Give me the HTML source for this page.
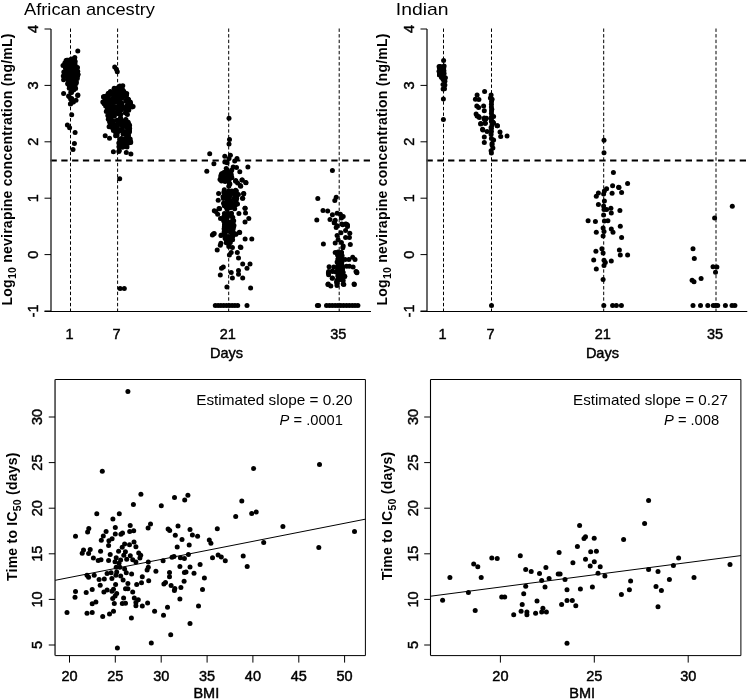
<!DOCTYPE html>
<html><head><meta charset="utf-8"><style>
html,body{margin:0;padding:0;background:#fff;}
svg{display:block;font-family:"Liberation Sans", sans-serif;will-change:transform;}
text{fill:#000;} .lb{stroke:#000;stroke-width:0.45px;}
</style></head><body>
<svg width="749" height="700" viewBox="0 0 749 700"><rect width="749" height="700" fill="#fff"/><line x1="70.5" y1="28.5" x2="70.5" y2="311" stroke="#000" stroke-width="1" stroke-dasharray="3.4 2.2"/><line x1="117.6" y1="28.5" x2="117.6" y2="311" stroke="#000" stroke-width="1" stroke-dasharray="3.4 2.2"/><line x1="228.7" y1="28.5" x2="228.7" y2="311" stroke="#000" stroke-width="1" stroke-dasharray="3.4 2.2"/><line x1="339.2" y1="28.5" x2="339.2" y2="311" stroke="#000" stroke-width="1" stroke-dasharray="3.4 2.2"/><line x1="50.5" y1="160.5" x2="370" y2="160.5" stroke="#000" stroke-width="2" stroke-dasharray="6.3 4.5"/><line x1="51" y1="29.0" x2="51" y2="311.5" stroke="#444" stroke-width="1.6"/><line x1="44.5" y1="311.0" x2="51" y2="311.0" stroke="#000" stroke-width="1"/><text transform="translate(38.2,311.0) rotate(-90)" text-anchor="middle" font-size="14.5" class="lb">-1</text><line x1="44.5" y1="254.6" x2="51" y2="254.6" stroke="#000" stroke-width="1"/><text transform="translate(38.2,254.6) rotate(-90)" text-anchor="middle" font-size="14.5" class="lb">0</text><line x1="44.5" y1="198.2" x2="51" y2="198.2" stroke="#000" stroke-width="1"/><text transform="translate(38.2,198.2) rotate(-90)" text-anchor="middle" font-size="14.5" class="lb">1</text><line x1="44.5" y1="141.8" x2="51" y2="141.8" stroke="#000" stroke-width="1"/><text transform="translate(38.2,141.8) rotate(-90)" text-anchor="middle" font-size="14.5" class="lb">2</text><line x1="44.5" y1="85.4" x2="51" y2="85.4" stroke="#000" stroke-width="1"/><text transform="translate(38.2,85.4) rotate(-90)" text-anchor="middle" font-size="14.5" class="lb">3</text><line x1="44.5" y1="29.0" x2="51" y2="29.0" stroke="#000" stroke-width="1"/><text transform="translate(38.2,29.0) rotate(-90)" text-anchor="middle" font-size="14.5" class="lb">4</text><line x1="44.5" y1="311.5" x2="371" y2="311.5" stroke="#000" stroke-width="1"/><text x="69.5" y="339" text-anchor="middle" font-size="14.5" class="lb">1</text><text x="116.6" y="339" text-anchor="middle" font-size="14.5" class="lb">7</text><text x="227.7" y="339" text-anchor="middle" font-size="14.5" class="lb">21</text><text x="338.2" y="339" text-anchor="middle" font-size="14.5" class="lb">35</text><text x="226.5" y="357.7" text-anchor="middle" font-size="14.5" class="lb">Days</text><text transform="translate(12,305.5) rotate(-90)" font-size="14" font-weight="bold" textLength="272" lengthAdjust="spacing">Log<tspan font-size="10.5" dy="4.2">10</tspan><tspan dy="-4.2"> nevirapine concentration (ng/mL)</tspan></text><line x1="443.5" y1="28.5" x2="443.5" y2="311" stroke="#000" stroke-width="1" stroke-dasharray="3.4 2.2"/><line x1="491.5" y1="28.5" x2="491.5" y2="311" stroke="#000" stroke-width="1" stroke-dasharray="3.4 2.2"/><line x1="603.7" y1="28.5" x2="603.7" y2="311" stroke="#000" stroke-width="1" stroke-dasharray="3.4 2.2"/><line x1="716" y1="28.5" x2="716" y2="311" stroke="#000" stroke-width="1" stroke-dasharray="3.4 2.2"/><line x1="426.5" y1="160.5" x2="746.3" y2="160.5" stroke="#000" stroke-width="2" stroke-dasharray="6.3 4.5"/><line x1="427" y1="29.0" x2="427" y2="311.5" stroke="#444" stroke-width="1.6"/><line x1="420.5" y1="311.0" x2="427" y2="311.0" stroke="#000" stroke-width="1"/><text transform="translate(414.4,311.0) rotate(-90)" text-anchor="middle" font-size="14.5" class="lb">-1</text><line x1="420.5" y1="254.6" x2="427" y2="254.6" stroke="#000" stroke-width="1"/><text transform="translate(414.4,254.6) rotate(-90)" text-anchor="middle" font-size="14.5" class="lb">0</text><line x1="420.5" y1="198.2" x2="427" y2="198.2" stroke="#000" stroke-width="1"/><text transform="translate(414.4,198.2) rotate(-90)" text-anchor="middle" font-size="14.5" class="lb">1</text><line x1="420.5" y1="141.8" x2="427" y2="141.8" stroke="#000" stroke-width="1"/><text transform="translate(414.4,141.8) rotate(-90)" text-anchor="middle" font-size="14.5" class="lb">2</text><line x1="420.5" y1="85.4" x2="427" y2="85.4" stroke="#000" stroke-width="1"/><text transform="translate(414.4,85.4) rotate(-90)" text-anchor="middle" font-size="14.5" class="lb">3</text><line x1="420.5" y1="29.0" x2="427" y2="29.0" stroke="#000" stroke-width="1"/><text transform="translate(414.4,29.0) rotate(-90)" text-anchor="middle" font-size="14.5" class="lb">4</text><line x1="420.5" y1="311.5" x2="747.3" y2="311.5" stroke="#000" stroke-width="1"/><text x="442.5" y="339" text-anchor="middle" font-size="14.5" class="lb">1</text><text x="490.5" y="339" text-anchor="middle" font-size="14.5" class="lb">7</text><text x="602.7" y="339" text-anchor="middle" font-size="14.5" class="lb">21</text><text x="715" y="339" text-anchor="middle" font-size="14.5" class="lb">35</text><text x="602.4" y="357.7" text-anchor="middle" font-size="14.5" class="lb">Days</text><text transform="translate(387,305.5) rotate(-90)" font-size="14" font-weight="bold" textLength="272" lengthAdjust="spacing">Log<tspan font-size="10.5" dy="4.2">10</tspan><tspan dy="-4.2"> nevirapine concentration (ng/mL)</tspan></text><text x="24" y="15.2" font-size="17" textLength="131" lengthAdjust="spacingAndGlyphs">African ancestry</text><text x="395.8" y="15" font-size="17" textLength="52.8" lengthAdjust="spacingAndGlyphs">Indian</text><line x1="55.05" y1="379.5" x2="365.4" y2="379.5" stroke="#000" stroke-width="1"/><line x1="365.4" y1="379.5" x2="365.4" y2="655.6" stroke="#000" stroke-width="1"/><line x1="55.05" y1="655.6" x2="365.4" y2="655.6" stroke="#000" stroke-width="1"/><line x1="55.05" y1="379.5" x2="55.05" y2="655.6" stroke="#444" stroke-width="1.6"/><line x1="48.75" y1="645.0" x2="55.05" y2="645.0" stroke="#000" stroke-width="1"/><text transform="translate(42.4,645.0) rotate(-90)" text-anchor="middle" font-size="14.5" class="lb">5</text><line x1="48.75" y1="599.4" x2="55.05" y2="599.4" stroke="#000" stroke-width="1"/><text transform="translate(42.4,599.4) rotate(-90)" text-anchor="middle" font-size="14.5" class="lb">10</text><line x1="48.75" y1="553.8" x2="55.05" y2="553.8" stroke="#000" stroke-width="1"/><text transform="translate(42.4,553.8) rotate(-90)" text-anchor="middle" font-size="14.5" class="lb">15</text><line x1="48.75" y1="508.2" x2="55.05" y2="508.2" stroke="#000" stroke-width="1"/><text transform="translate(42.4,508.2) rotate(-90)" text-anchor="middle" font-size="14.5" class="lb">20</text><line x1="48.75" y1="462.6" x2="55.05" y2="462.6" stroke="#000" stroke-width="1"/><text transform="translate(42.4,462.6) rotate(-90)" text-anchor="middle" font-size="14.5" class="lb">25</text><line x1="48.75" y1="417.0" x2="55.05" y2="417.0" stroke="#000" stroke-width="1"/><text transform="translate(42.4,417.0) rotate(-90)" text-anchor="middle" font-size="14.5" class="lb">30</text><line x1="69.5" y1="655.6" x2="69.5" y2="662.6" stroke="#000" stroke-width="1"/><text x="69.5" y="681" text-anchor="middle" font-size="14.5" class="lb">20</text><line x1="115.3" y1="655.6" x2="115.3" y2="662.6" stroke="#000" stroke-width="1"/><text x="115.3" y="681" text-anchor="middle" font-size="14.5" class="lb">25</text><line x1="161.2" y1="655.6" x2="161.2" y2="662.6" stroke="#000" stroke-width="1"/><text x="161.2" y="681" text-anchor="middle" font-size="14.5" class="lb">30</text><line x1="207.1" y1="655.6" x2="207.1" y2="662.6" stroke="#000" stroke-width="1"/><text x="207.1" y="681" text-anchor="middle" font-size="14.5" class="lb">35</text><line x1="252.9" y1="655.6" x2="252.9" y2="662.6" stroke="#000" stroke-width="1"/><text x="252.9" y="681" text-anchor="middle" font-size="14.5" class="lb">40</text><line x1="298.8" y1="655.6" x2="298.8" y2="662.6" stroke="#000" stroke-width="1"/><text x="298.8" y="681" text-anchor="middle" font-size="14.5" class="lb">45</text><line x1="344.6" y1="655.6" x2="344.6" y2="662.6" stroke="#000" stroke-width="1"/><text x="344.6" y="681" text-anchor="middle" font-size="14.5" class="lb">50</text><text x="206.3" y="697.8" text-anchor="middle" font-size="14.5" class="lb">BMI</text><text transform="translate(16.5,581) rotate(-90)" font-size="14" font-weight="bold" textLength="128.5" lengthAdjust="spacing">Time to IC<tspan font-size="10.5" dy="4.2">50</tspan><tspan dy="-4.2"> (days)</tspan></text><line x1="55.2" y1="580.3" x2="365.3" y2="519.2" stroke="#000" stroke-width="1"/><text x="196.2" y="405.2" font-size="14.2" textLength="156.3" lengthAdjust="spacingAndGlyphs">Estimated slope = 0.20</text><text x="279.6" y="424.6" font-size="14.7"><tspan font-style="italic">P</tspan> = .0001</text><line x1="430.5" y1="379.5" x2="740.9" y2="379.5" stroke="#000" stroke-width="1"/><line x1="740.9" y1="379.5" x2="740.9" y2="655.6" stroke="#000" stroke-width="1"/><line x1="430.5" y1="655.6" x2="740.9" y2="655.6" stroke="#000" stroke-width="1"/><line x1="430.5" y1="379.5" x2="430.5" y2="655.6" stroke="#000" stroke-width="1.1"/><line x1="424.2" y1="645.0" x2="430.5" y2="645.0" stroke="#000" stroke-width="1"/><text transform="translate(418.4,645.0) rotate(-90)" text-anchor="middle" font-size="14.5" class="lb">5</text><line x1="424.2" y1="599.4" x2="430.5" y2="599.4" stroke="#000" stroke-width="1"/><text transform="translate(418.4,599.4) rotate(-90)" text-anchor="middle" font-size="14.5" class="lb">10</text><line x1="424.2" y1="553.8" x2="430.5" y2="553.8" stroke="#000" stroke-width="1"/><text transform="translate(418.4,553.8) rotate(-90)" text-anchor="middle" font-size="14.5" class="lb">15</text><line x1="424.2" y1="508.2" x2="430.5" y2="508.2" stroke="#000" stroke-width="1"/><text transform="translate(418.4,508.2) rotate(-90)" text-anchor="middle" font-size="14.5" class="lb">20</text><line x1="424.2" y1="462.6" x2="430.5" y2="462.6" stroke="#000" stroke-width="1"/><text transform="translate(418.4,462.6) rotate(-90)" text-anchor="middle" font-size="14.5" class="lb">25</text><line x1="424.2" y1="417.0" x2="430.5" y2="417.0" stroke="#000" stroke-width="1"/><text transform="translate(418.4,417.0) rotate(-90)" text-anchor="middle" font-size="14.5" class="lb">30</text><line x1="500.4" y1="655.6" x2="500.4" y2="662.6" stroke="#000" stroke-width="1"/><text x="500.4" y="681" text-anchor="middle" font-size="14.5" class="lb">20</text><line x1="594.3" y1="655.6" x2="594.3" y2="662.6" stroke="#000" stroke-width="1"/><text x="594.3" y="681" text-anchor="middle" font-size="14.5" class="lb">25</text><line x1="688.2" y1="655.6" x2="688.2" y2="662.6" stroke="#000" stroke-width="1"/><text x="688.2" y="681" text-anchor="middle" font-size="14.5" class="lb">30</text><text x="582.2" y="697.8" text-anchor="middle" font-size="14.5" class="lb">BMI</text><text transform="translate(392,580.3) rotate(-90)" font-size="14" font-weight="bold" textLength="128.5" lengthAdjust="spacing">Time to IC<tspan font-size="10.5" dy="4.2">50</tspan><tspan dy="-4.2"> (days)</tspan></text><line x1="430.7" y1="596.2" x2="740.9" y2="555.6" stroke="#000" stroke-width="1"/><text x="573" y="405.2" font-size="14.2" textLength="154.9" lengthAdjust="spacingAndGlyphs">Estimated slope = 0.27</text><text x="664" y="424.6" font-size="14.7"><tspan font-style="italic">P</tspan> = .008</text><g fill="#000"><circle cx="77.8" cy="50.9" r="2.5"/><circle cx="63.6" cy="93.4" r="2.5"/><circle cx="77.7" cy="95.6" r="2.5"/><circle cx="69.1" cy="96.4" r="2.5"/><circle cx="71.7" cy="98.6" r="2.5"/><circle cx="76.0" cy="100.3" r="2.5"/><circle cx="73.4" cy="102.0" r="2.5"/><circle cx="70.4" cy="104.1" r="2.5"/><circle cx="68.6" cy="96.0" r="2.5"/><circle cx="70.6" cy="99.0" r="2.5"/><circle cx="71.0" cy="103.3" r="2.5"/><circle cx="77.9" cy="95.1" r="2.5"/><circle cx="71.7" cy="114.8" r="2.5"/><circle cx="67.4" cy="125.1" r="2.5"/><circle cx="69.6" cy="127.7" r="2.5"/><circle cx="75.1" cy="132.4" r="2.5"/><circle cx="74.4" cy="143.6" r="2.5"/><circle cx="73.0" cy="149.4" r="2.5"/><circle cx="114.7" cy="67.1" r="2.5"/><circle cx="116.4" cy="69.3" r="2.5"/><circle cx="117.3" cy="71.8" r="2.5"/><circle cx="119.9" cy="86.1" r="2.5"/><circle cx="122.8" cy="85.7" r="2.5"/><circle cx="114.2" cy="88.2" r="2.5"/><circle cx="108.5" cy="93.6" r="2.5"/><circle cx="103.5" cy="96.8" r="2.5"/><circle cx="126.7" cy="93.6" r="2.5"/><circle cx="120.3" cy="92.9" r="2.5"/><circle cx="102.8" cy="102.1" r="2.5"/><circle cx="133.1" cy="106.4" r="2.5"/><circle cx="130.3" cy="102.1" r="2.5"/><circle cx="109.1" cy="126.8" r="2.5"/><circle cx="105.2" cy="135.7" r="2.5"/><circle cx="109.5" cy="138.2" r="2.5"/><circle cx="113.4" cy="130.4" r="2.5"/><circle cx="115.6" cy="135.7" r="2.5"/><circle cx="113.4" cy="151.8" r="2.5"/><circle cx="118.8" cy="151.4" r="2.5"/><circle cx="126.3" cy="152.5" r="2.5"/><circle cx="130.9" cy="153.9" r="2.5"/><circle cx="119.7" cy="178.7" r="2.5"/><circle cx="120.1" cy="288.5" r="2.5"/><circle cx="124.3" cy="288.5" r="2.5"/><circle cx="229.0" cy="118.3" r="2.5"/><circle cx="229.5" cy="139.4" r="2.5"/><circle cx="229.0" cy="143.9" r="2.5"/><circle cx="209.7" cy="153.8" r="2.5"/><circle cx="224.8" cy="156.2" r="2.5"/><circle cx="230.4" cy="155.3" r="2.5"/><circle cx="229.0" cy="158.6" r="2.5"/><circle cx="237.0" cy="158.6" r="2.5"/><circle cx="234.7" cy="160.9" r="2.5"/><circle cx="224.8" cy="161.9" r="2.5"/><circle cx="227.1" cy="162.8" r="2.5"/><circle cx="213.9" cy="163.7" r="2.5"/><circle cx="247.9" cy="167.0" r="2.5"/><circle cx="206.8" cy="171.3" r="2.5"/><circle cx="233.2" cy="167.0" r="2.5"/><circle cx="236.5" cy="167.5" r="2.5"/><circle cx="239.8" cy="171.8" r="2.5"/><circle cx="226.2" cy="168.5" r="2.5"/><circle cx="220.0" cy="179.4" r="2.5"/><circle cx="221.0" cy="175.2" r="2.5"/><circle cx="226.2" cy="172.8" r="2.5"/><circle cx="230.9" cy="171.9" r="2.5"/><circle cx="231.8" cy="177.5" r="2.5"/><circle cx="224.3" cy="180.4" r="2.5"/><circle cx="223.0" cy="173.5" r="2.5"/><circle cx="228.0" cy="176.0" r="2.5"/><circle cx="242.2" cy="179.9" r="2.5"/><circle cx="246.0" cy="182.7" r="2.5"/><circle cx="240.3" cy="185.6" r="2.5"/><circle cx="235.6" cy="181.3" r="2.5"/><circle cx="229.9" cy="184.1" r="2.5"/><circle cx="235.7" cy="180.6" r="2.5"/><circle cx="237.6" cy="183.1" r="2.5"/><circle cx="240.7" cy="186.2" r="2.5"/><circle cx="242.0" cy="180.0" r="2.5"/><circle cx="245.7" cy="182.5" r="2.5"/><circle cx="229.4" cy="183.7" r="2.5"/><circle cx="228.8" cy="186.2" r="2.5"/><circle cx="243.8" cy="193.8" r="2.5"/><circle cx="242.6" cy="198.2" r="2.5"/><circle cx="245.1" cy="208.3" r="2.5"/><circle cx="219.0" cy="208.6" r="2.5"/><circle cx="214.3" cy="210.8" r="2.5"/><circle cx="218.6" cy="193.6" r="2.5"/><circle cx="218.2" cy="200.2" r="2.5"/><circle cx="224.3" cy="189.8" r="2.5"/><circle cx="235.6" cy="190.3" r="2.5"/><circle cx="238.4" cy="194.5" r="2.5"/><circle cx="237.5" cy="203.9" r="2.5"/><circle cx="224.3" cy="205.8" r="2.5"/><circle cx="227.1" cy="209.6" r="2.5"/><circle cx="234.7" cy="208.7" r="2.5"/><circle cx="243.6" cy="193.6" r="2.5"/><circle cx="242.7" cy="198.3" r="2.5"/><circle cx="215.8" cy="211.5" r="2.5"/><circle cx="219.6" cy="208.7" r="2.5"/><circle cx="217.7" cy="214.3" r="2.5"/><circle cx="245.0" cy="208.2" r="2.5"/><circle cx="245.5" cy="212.9" r="2.5"/><circle cx="238.9" cy="213.4" r="2.5"/><circle cx="248.8" cy="218.6" r="2.5"/><circle cx="245.0" cy="221.9" r="2.5"/><circle cx="220.5" cy="218.6" r="2.5"/><circle cx="225.2" cy="215.3" r="2.5"/><circle cx="231.8" cy="216.2" r="2.5"/><circle cx="232.8" cy="220.0" r="2.5"/><circle cx="224.8" cy="223.7" r="2.5"/><circle cx="228.1" cy="226.6" r="2.5"/><circle cx="233.7" cy="226.6" r="2.5"/><circle cx="225.2" cy="230.3" r="2.5"/><circle cx="229.9" cy="231.3" r="2.5"/><circle cx="239.4" cy="232.2" r="2.5"/><circle cx="235.6" cy="234.1" r="2.5"/><circle cx="213.4" cy="234.1" r="2.5"/><circle cx="221.5" cy="235.1" r="2.5"/><circle cx="212.4" cy="234.9" r="2.5"/><circle cx="214.2" cy="233.6" r="2.5"/><circle cx="220.9" cy="235.5" r="2.5"/><circle cx="225.1" cy="231.8" r="2.5"/><circle cx="231.2" cy="232.4" r="2.5"/><circle cx="239.7" cy="232.4" r="2.5"/><circle cx="236.0" cy="234.2" r="2.5"/><circle cx="230.6" cy="237.3" r="2.5"/><circle cx="229.4" cy="240.9" r="2.5"/><circle cx="226.3" cy="242.7" r="2.5"/><circle cx="245.1" cy="239.1" r="2.5"/><circle cx="251.8" cy="239.1" r="2.5"/><circle cx="220.9" cy="243.3" r="2.5"/><circle cx="220.3" cy="245.2" r="2.5"/><circle cx="228.8" cy="246.4" r="2.5"/><circle cx="232.4" cy="247.6" r="2.5"/><circle cx="240.3" cy="247.0" r="2.5"/><circle cx="240.9" cy="247.6" r="2.5"/><circle cx="217.2" cy="250.0" r="2.5"/><circle cx="231.2" cy="252.4" r="2.5"/><circle cx="229.4" cy="254.9" r="2.5"/><circle cx="237.3" cy="252.4" r="2.5"/><circle cx="238.5" cy="257.9" r="2.5"/><circle cx="242.7" cy="264.0" r="2.5"/><circle cx="250.0" cy="264.0" r="2.5"/><circle cx="247.0" cy="268.2" r="2.5"/><circle cx="221.5" cy="268.2" r="2.5"/><circle cx="223.3" cy="267.0" r="2.5"/><circle cx="238.5" cy="270.6" r="2.5"/><circle cx="231.2" cy="272.5" r="2.5"/><circle cx="220.3" cy="274.9" r="2.5"/><circle cx="238.5" cy="274.3" r="2.5"/><circle cx="232.4" cy="277.9" r="2.5"/><circle cx="242.7" cy="277.9" r="2.5"/><circle cx="226.9" cy="287.0" r="2.5"/><circle cx="250.6" cy="288.0" r="2.5"/><circle cx="247.0" cy="305.6" r="2.5"/><circle cx="332.4" cy="170.6" r="2.5"/><circle cx="317.8" cy="198.5" r="2.5"/><circle cx="336.2" cy="197.2" r="2.5"/><circle cx="334.8" cy="200.4" r="2.5"/><circle cx="323.0" cy="210.4" r="2.5"/><circle cx="327.7" cy="210.9" r="2.5"/><circle cx="332.4" cy="214.7" r="2.5"/><circle cx="337.1" cy="213.3" r="2.5"/><circle cx="340.4" cy="214.2" r="2.5"/><circle cx="343.2" cy="216.6" r="2.5"/><circle cx="341.4" cy="218.0" r="2.5"/><circle cx="316.8" cy="219.9" r="2.5"/><circle cx="330.0" cy="219.4" r="2.5"/><circle cx="335.2" cy="220.3" r="2.5"/><circle cx="334.3" cy="222.7" r="2.5"/><circle cx="341.8" cy="224.1" r="2.5"/><circle cx="345.6" cy="224.1" r="2.5"/><circle cx="347.5" cy="225.0" r="2.5"/><circle cx="334.3" cy="222.8" r="2.5"/><circle cx="337.1" cy="225.7" r="2.5"/><circle cx="336.2" cy="227.5" r="2.5"/><circle cx="342.8" cy="224.7" r="2.5"/><circle cx="346.5" cy="224.2" r="2.5"/><circle cx="347.5" cy="226.6" r="2.5"/><circle cx="345.6" cy="230.4" r="2.5"/><circle cx="349.8" cy="233.2" r="2.5"/><circle cx="349.4" cy="237.4" r="2.5"/><circle cx="340.9" cy="232.7" r="2.5"/><circle cx="337.1" cy="235.6" r="2.5"/><circle cx="345.6" cy="237.4" r="2.5"/><circle cx="338.1" cy="239.8" r="2.5"/><circle cx="335.2" cy="243.1" r="2.5"/><circle cx="341.4" cy="242.6" r="2.5"/><circle cx="343.2" cy="245.9" r="2.5"/><circle cx="342.8" cy="247.8" r="2.5"/><circle cx="323.4" cy="244.0" r="2.5"/><circle cx="350.3" cy="244.5" r="2.5"/><circle cx="335.2" cy="252.5" r="2.5"/><circle cx="341.4" cy="252.5" r="2.5"/><circle cx="340.0" cy="256.8" r="2.5"/><circle cx="339.0" cy="259.6" r="2.5"/><circle cx="345.1" cy="259.6" r="2.5"/><circle cx="348.9" cy="259.6" r="2.5"/><circle cx="352.7" cy="257.2" r="2.5"/><circle cx="355.0" cy="259.6" r="2.5"/><circle cx="337.1" cy="262.0" r="2.5"/><circle cx="340.9" cy="263.4" r="2.5"/><circle cx="346.5" cy="266.2" r="2.5"/><circle cx="349.4" cy="266.2" r="2.5"/><circle cx="353.1" cy="267.1" r="2.5"/><circle cx="329.1" cy="266.7" r="2.5"/><circle cx="333.8" cy="267.1" r="2.5"/><circle cx="328.6" cy="271.4" r="2.5"/><circle cx="332.4" cy="270.9" r="2.5"/><circle cx="336.2" cy="271.9" r="2.5"/><circle cx="340.4" cy="269.0" r="2.5"/><circle cx="356.0" cy="271.4" r="2.5"/><circle cx="356.9" cy="272.8" r="2.5"/><circle cx="328.6" cy="274.7" r="2.5"/><circle cx="332.4" cy="278.0" r="2.5"/><circle cx="339.9" cy="276.6" r="2.5"/><circle cx="344.7" cy="276.6" r="2.5"/><circle cx="337.1" cy="280.3" r="2.5"/><circle cx="328.2" cy="284.1" r="2.5"/><circle cx="337.1" cy="284.1" r="2.5"/><circle cx="343.2" cy="284.1" r="2.5"/><circle cx="354.1" cy="284.1" r="2.5"/><circle cx="328.4" cy="272.9" r="2.5"/><circle cx="332.7" cy="271.4" r="2.5"/><circle cx="336.5" cy="271.9" r="2.5"/><circle cx="341.3" cy="272.9" r="2.5"/><circle cx="344.7" cy="276.3" r="2.5"/><circle cx="356.7" cy="271.9" r="2.5"/><circle cx="332.2" cy="278.2" r="2.5"/><circle cx="338.5" cy="278.7" r="2.5"/><circle cx="341.3" cy="278.7" r="2.5"/><circle cx="336.5" cy="282.0" r="2.5"/><circle cx="327.9" cy="284.4" r="2.5"/><circle cx="330.8" cy="285.9" r="2.5"/><circle cx="337.0" cy="285.4" r="2.5"/><circle cx="343.8" cy="284.4" r="2.5"/><circle cx="354.3" cy="284.4" r="2.5"/><circle cx="317.4" cy="305.6" r="2.5"/><circle cx="318.6" cy="305.6" r="2.5"/><circle cx="443.6" cy="60.4" r="2.5"/><circle cx="443.4" cy="98.9" r="2.5"/><circle cx="443.4" cy="119.6" r="2.5"/><circle cx="484.6" cy="91.4" r="2.5"/><circle cx="477.1" cy="95.0" r="2.5"/><circle cx="475.4" cy="99.3" r="2.5"/><circle cx="478.9" cy="99.6" r="2.5"/><circle cx="491.1" cy="95.0" r="2.5"/><circle cx="490.4" cy="97.9" r="2.5"/><circle cx="492.1" cy="99.3" r="2.5"/><circle cx="476.8" cy="106.1" r="2.5"/><circle cx="478.6" cy="107.5" r="2.5"/><circle cx="483.6" cy="106.1" r="2.5"/><circle cx="484.3" cy="110.7" r="2.5"/><circle cx="491.4" cy="104.3" r="2.5"/><circle cx="491.4" cy="107.1" r="2.5"/><circle cx="491.8" cy="109.3" r="2.5"/><circle cx="476.1" cy="113.9" r="2.5"/><circle cx="478.6" cy="116.4" r="2.5"/><circle cx="484.3" cy="117.9" r="2.5"/><circle cx="485.7" cy="118.9" r="2.5"/><circle cx="491.4" cy="113.6" r="2.5"/><circle cx="493.6" cy="116.4" r="2.5"/><circle cx="491.4" cy="118.9" r="2.5"/><circle cx="492.9" cy="122.1" r="2.5"/><circle cx="480.7" cy="123.6" r="2.5"/><circle cx="485.0" cy="123.2" r="2.5"/><circle cx="497.5" cy="125.7" r="2.5"/><circle cx="482.5" cy="129.3" r="2.5"/><circle cx="491.4" cy="128.6" r="2.5"/><circle cx="477.1" cy="116.1" r="2.5"/><circle cx="479.3" cy="117.5" r="2.5"/><circle cx="484.3" cy="119.3" r="2.5"/><circle cx="486.4" cy="118.2" r="2.5"/><circle cx="480.7" cy="123.9" r="2.5"/><circle cx="485.4" cy="123.2" r="2.5"/><circle cx="491.4" cy="117.1" r="2.5"/><circle cx="491.4" cy="121.4" r="2.5"/><circle cx="493.6" cy="122.9" r="2.5"/><circle cx="497.1" cy="125.7" r="2.5"/><circle cx="482.9" cy="130.0" r="2.5"/><circle cx="487.1" cy="131.4" r="2.5"/><circle cx="491.1" cy="127.5" r="2.5"/><circle cx="491.4" cy="131.4" r="2.5"/><circle cx="491.1" cy="134.6" r="2.5"/><circle cx="500.0" cy="132.1" r="2.5"/><circle cx="500.7" cy="136.4" r="2.5"/><circle cx="507.1" cy="136.1" r="2.5"/><circle cx="484.3" cy="137.1" r="2.5"/><circle cx="484.3" cy="142.5" r="2.5"/><circle cx="491.4" cy="138.6" r="2.5"/><circle cx="493.6" cy="140.0" r="2.5"/><circle cx="492.1" cy="143.6" r="2.5"/><circle cx="492.9" cy="147.9" r="2.5"/><circle cx="491.1" cy="150.7" r="2.5"/><circle cx="491.4" cy="152.9" r="2.5"/><circle cx="491.5" cy="305.6" r="2.5"/><circle cx="491.5" cy="101.5" r="2.5"/><circle cx="491.5" cy="111.0" r="2.5"/><circle cx="492.0" cy="125.0" r="2.5"/><circle cx="492.0" cy="145.0" r="2.5"/><circle cx="604.0" cy="140.3" r="2.5"/><circle cx="604.0" cy="152.7" r="2.5"/><circle cx="613.4" cy="172.4" r="2.5"/><circle cx="627.6" cy="183.6" r="2.5"/><circle cx="612.6" cy="185.7" r="2.5"/><circle cx="619.0" cy="187.4" r="2.5"/><circle cx="606.6" cy="188.7" r="2.5"/><circle cx="618.6" cy="187.3" r="2.5"/><circle cx="621.6" cy="192.4" r="2.5"/><circle cx="604.4" cy="191.1" r="2.5"/><circle cx="603.6" cy="194.1" r="2.5"/><circle cx="598.4" cy="192.9" r="2.5"/><circle cx="596.3" cy="196.3" r="2.5"/><circle cx="612.1" cy="193.3" r="2.5"/><circle cx="604.4" cy="201.0" r="2.5"/><circle cx="598.4" cy="204.4" r="2.5"/><circle cx="603.6" cy="206.1" r="2.5"/><circle cx="604.0" cy="209.6" r="2.5"/><circle cx="606.6" cy="209.6" r="2.5"/><circle cx="610.9" cy="208.3" r="2.5"/><circle cx="611.3" cy="213.0" r="2.5"/><circle cx="619.9" cy="210.4" r="2.5"/><circle cx="603.6" cy="215.1" r="2.5"/><circle cx="588.1" cy="220.7" r="2.5"/><circle cx="595.4" cy="221.6" r="2.5"/><circle cx="604.4" cy="221.1" r="2.5"/><circle cx="607.9" cy="220.7" r="2.5"/><circle cx="620.3" cy="226.3" r="2.5"/><circle cx="603.1" cy="228.0" r="2.5"/><circle cx="604.0" cy="231.4" r="2.5"/><circle cx="611.3" cy="228.9" r="2.5"/><circle cx="613.0" cy="232.3" r="2.5"/><circle cx="596.3" cy="232.3" r="2.5"/><circle cx="603.1" cy="236.1" r="2.5"/><circle cx="621.6" cy="237.4" r="2.5"/><circle cx="601.9" cy="248.7" r="2.5"/><circle cx="603.1" cy="253.0" r="2.5"/><circle cx="595.9" cy="251.3" r="2.5"/><circle cx="619.4" cy="250.0" r="2.5"/><circle cx="620.3" cy="255.1" r="2.5"/><circle cx="627.6" cy="255.1" r="2.5"/><circle cx="593.7" cy="259.9" r="2.5"/><circle cx="604.0" cy="260.3" r="2.5"/><circle cx="605.3" cy="262.4" r="2.5"/><circle cx="604.0" cy="265.4" r="2.5"/><circle cx="611.3" cy="261.1" r="2.5"/><circle cx="596.3" cy="268.9" r="2.5"/><circle cx="603.1" cy="279.6" r="2.5"/><circle cx="603.8" cy="305.6" r="2.5"/><circle cx="612.6" cy="305.6" r="2.5"/><circle cx="616.4" cy="305.6" r="2.5"/><circle cx="621.4" cy="305.6" r="2.5"/><circle cx="732.3" cy="206.2" r="2.5"/><circle cx="714.6" cy="218.0" r="2.5"/><circle cx="693.0" cy="248.8" r="2.5"/><circle cx="694.3" cy="258.5" r="2.5"/><circle cx="713.0" cy="266.8" r="2.5"/><circle cx="716.9" cy="267.1" r="2.5"/><circle cx="715.5" cy="272.3" r="2.5"/><circle cx="701.1" cy="278.4" r="2.5"/><circle cx="692.1" cy="280.3" r="2.5"/><circle cx="694.0" cy="281.8" r="2.5"/><circle cx="693.0" cy="305.6" r="2.5"/><circle cx="700.5" cy="305.6" r="2.5"/><circle cx="707.8" cy="305.6" r="2.5"/><circle cx="713.3" cy="305.6" r="2.5"/><circle cx="715.5" cy="305.6" r="2.5"/><circle cx="717.7" cy="305.6" r="2.5"/><circle cx="725.4" cy="305.6" r="2.5"/><circle cx="732.0" cy="305.6" r="2.5"/><circle cx="734.9" cy="305.6" r="2.5"/><circle cx="127.9" cy="391.5" r="2.5"/><circle cx="102.3" cy="471.3" r="2.5"/><circle cx="140.9" cy="494.3" r="2.5"/><circle cx="174.5" cy="497.6" r="2.5"/><circle cx="133.4" cy="504.5" r="2.5"/><circle cx="161.3" cy="505.8" r="2.5"/><circle cx="96.8" cy="513.8" r="2.5"/><circle cx="119.3" cy="513.8" r="2.5"/><circle cx="112.9" cy="519.1" r="2.5"/><circle cx="130.2" cy="525.4" r="2.5"/><circle cx="150.5" cy="523.9" r="2.5"/><circle cx="148.1" cy="527.9" r="2.5"/><circle cx="115.3" cy="527.5" r="2.5"/><circle cx="88.8" cy="528.6" r="2.5"/><circle cx="87.6" cy="531.9" r="2.5"/><circle cx="106.1" cy="531.5" r="2.5"/><circle cx="129.7" cy="531.5" r="2.5"/><circle cx="133.7" cy="530.7" r="2.5"/><circle cx="168.1" cy="529.1" r="2.5"/><circle cx="169.7" cy="530.5" r="2.5"/><circle cx="75.5" cy="536.3" r="2.5"/><circle cx="115.3" cy="533.9" r="2.5"/><circle cx="122.5" cy="533.1" r="2.5"/><circle cx="120.9" cy="534.3" r="2.5"/><circle cx="103.3" cy="536.0" r="2.5"/><circle cx="175.3" cy="535.3" r="2.5"/><circle cx="112.1" cy="538.7" r="2.5"/><circle cx="108.9" cy="540.8" r="2.5"/><circle cx="101.3" cy="540.3" r="2.5"/><circle cx="134.0" cy="541.9" r="2.5"/><circle cx="108.6" cy="545.6" r="2.5"/><circle cx="124.6" cy="544.0" r="2.5"/><circle cx="122.2" cy="547.2" r="2.5"/><circle cx="129.5" cy="544.8" r="2.5"/><circle cx="135.9" cy="546.8" r="2.5"/><circle cx="100.6" cy="551.3" r="2.5"/><circle cx="118.6" cy="551.3" r="2.5"/><circle cx="125.4" cy="551.7" r="2.5"/><circle cx="138.7" cy="552.9" r="2.5"/><circle cx="140.7" cy="555.3" r="2.5"/><circle cx="110.2" cy="554.5" r="2.5"/><circle cx="123.8" cy="555.3" r="2.5"/><circle cx="130.3" cy="555.7" r="2.5"/><circle cx="139.9" cy="558.1" r="2.5"/><circle cx="98.2" cy="560.5" r="2.5"/><circle cx="101.0" cy="559.7" r="2.5"/><circle cx="108.6" cy="560.5" r="2.5"/><circle cx="116.2" cy="557.7" r="2.5"/><circle cx="126.7" cy="559.3" r="2.5"/><circle cx="132.7" cy="559.7" r="2.5"/><circle cx="135.9" cy="562.1" r="2.5"/><circle cx="120.6" cy="560.1" r="2.5"/><circle cx="115.0" cy="561.7" r="2.5"/><circle cx="119.0" cy="563.3" r="2.5"/><circle cx="148.3" cy="562.1" r="2.5"/><circle cx="116.2" cy="567.3" r="2.5"/><circle cx="148.3" cy="567.3" r="2.5"/><circle cx="124.6" cy="568.9" r="2.5"/><circle cx="83.5" cy="550.1" r="2.5"/><circle cx="82.2" cy="553.3" r="2.5"/><circle cx="90.2" cy="549.6" r="2.5"/><circle cx="88.6" cy="553.6" r="2.5"/><circle cx="93.4" cy="558.1" r="2.5"/><circle cx="163.1" cy="560.8" r="2.5"/><circle cx="172.0" cy="557.3" r="2.5"/><circle cx="87.0" cy="575.2" r="2.5"/><circle cx="88.6" cy="577.3" r="2.5"/><circle cx="94.2" cy="575.2" r="2.5"/><circle cx="99.1" cy="579.5" r="2.5"/><circle cx="104.3" cy="578.9" r="2.5"/><circle cx="107.1" cy="573.6" r="2.5"/><circle cx="111.1" cy="572.8" r="2.5"/><circle cx="111.9" cy="578.4" r="2.5"/><circle cx="115.9" cy="575.2" r="2.5"/><circle cx="116.7" cy="572.0" r="2.5"/><circle cx="119.9" cy="567.2" r="2.5"/><circle cx="120.7" cy="576.0" r="2.5"/><circle cx="123.1" cy="580.0" r="2.5"/><circle cx="126.3" cy="572.8" r="2.5"/><circle cx="131.6" cy="574.1" r="2.5"/><circle cx="142.3" cy="576.8" r="2.5"/><circle cx="147.1" cy="569.9" r="2.5"/><circle cx="155.9" cy="571.2" r="2.5"/><circle cx="169.5" cy="572.5" r="2.5"/><circle cx="169.5" cy="576.8" r="2.5"/><circle cx="148.7" cy="580.8" r="2.5"/><circle cx="141.5" cy="582.7" r="2.5"/><circle cx="136.7" cy="584.4" r="2.5"/><circle cx="127.9" cy="583.6" r="2.5"/><circle cx="115.6" cy="584.4" r="2.5"/><circle cx="100.2" cy="585.3" r="2.5"/><circle cx="165.5" cy="582.4" r="2.5"/><circle cx="163.9" cy="584.0" r="2.5"/><circle cx="171.1" cy="585.6" r="2.5"/><circle cx="174.4" cy="590.4" r="2.5"/><circle cx="75.5" cy="591.6" r="2.5"/><circle cx="75.0" cy="597.2" r="2.5"/><circle cx="86.2" cy="592.5" r="2.5"/><circle cx="92.2" cy="589.6" r="2.5"/><circle cx="103.9" cy="592.0" r="2.5"/><circle cx="107.1" cy="590.1" r="2.5"/><circle cx="111.9" cy="591.2" r="2.5"/><circle cx="113.5" cy="589.2" r="2.5"/><circle cx="125.5" cy="588.8" r="2.5"/><circle cx="127.9" cy="588.8" r="2.5"/><circle cx="132.7" cy="592.0" r="2.5"/><circle cx="116.7" cy="593.6" r="2.5"/><circle cx="115.1" cy="596.0" r="2.5"/><circle cx="112.7" cy="598.4" r="2.5"/><circle cx="123.6" cy="598.0" r="2.5"/><circle cx="134.3" cy="598.1" r="2.5"/><circle cx="138.3" cy="599.7" r="2.5"/><circle cx="135.9" cy="602.5" r="2.5"/><circle cx="135.9" cy="605.7" r="2.5"/><circle cx="142.3" cy="606.0" r="2.5"/><circle cx="147.6" cy="602.9" r="2.5"/><circle cx="95.9" cy="602.0" r="2.5"/><circle cx="92.2" cy="603.7" r="2.5"/><circle cx="114.3" cy="603.6" r="2.5"/><circle cx="122.3" cy="603.6" r="2.5"/><circle cx="125.5" cy="603.3" r="2.5"/><circle cx="167.5" cy="607.3" r="2.5"/><circle cx="67.0" cy="612.5" r="2.5"/><circle cx="87.0" cy="613.2" r="2.5"/><circle cx="92.2" cy="612.5" r="2.5"/><circle cx="113.5" cy="611.3" r="2.5"/><circle cx="109.5" cy="614.0" r="2.5"/><circle cx="102.7" cy="616.6" r="2.5"/><circle cx="154.6" cy="611.3" r="2.5"/><circle cx="163.5" cy="615.3" r="2.5"/><circle cx="131.4" cy="618.0" r="2.5"/><circle cx="170.7" cy="634.8" r="2.5"/><circle cx="151.3" cy="643.1" r="2.5"/><circle cx="117.4" cy="647.9" r="2.5"/><circle cx="187.9" cy="495.3" r="2.5"/><circle cx="184.7" cy="500.1" r="2.5"/><circle cx="241.8" cy="500.9" r="2.5"/><circle cx="235.7" cy="516.5" r="2.5"/><circle cx="251.7" cy="513.6" r="2.5"/><circle cx="256.2" cy="512.0" r="2.5"/><circle cx="178.0" cy="526.1" r="2.5"/><circle cx="190.0" cy="529.6" r="2.5"/><circle cx="217.3" cy="528.8" r="2.5"/><circle cx="282.9" cy="526.6" r="2.5"/><circle cx="192.4" cy="534.9" r="2.5"/><circle cx="197.6" cy="536.2" r="2.5"/><circle cx="182.0" cy="539.4" r="2.5"/><circle cx="209.3" cy="540.0" r="2.5"/><circle cx="210.9" cy="543.2" r="2.5"/><circle cx="189.2" cy="545.0" r="2.5"/><circle cx="177.2" cy="547.1" r="2.5"/><circle cx="263.7" cy="542.4" r="2.5"/><circle cx="188.4" cy="554.4" r="2.5"/><circle cx="174.0" cy="556.5" r="2.5"/><circle cx="180.4" cy="557.8" r="2.5"/><circle cx="184.4" cy="558.4" r="2.5"/><circle cx="212.5" cy="557.8" r="2.5"/><circle cx="218.1" cy="554.9" r="2.5"/><circle cx="221.3" cy="557.0" r="2.5"/><circle cx="225.3" cy="560.7" r="2.5"/><circle cx="243.2" cy="556.0" r="2.5"/><circle cx="179.9" cy="566.6" r="2.5"/><circle cx="190.0" cy="567.1" r="2.5"/><circle cx="200.1" cy="564.5" r="2.5"/><circle cx="247.2" cy="566.6" r="2.5"/><circle cx="184.4" cy="572.5" r="2.5"/><circle cx="186.0" cy="572.0" r="2.5"/><circle cx="194.0" cy="573.3" r="2.5"/><circle cx="204.4" cy="578.1" r="2.5"/><circle cx="184.1" cy="581.3" r="2.5"/><circle cx="174.8" cy="588.5" r="2.5"/><circle cx="180.9" cy="587.6" r="2.5"/><circle cx="202.5" cy="589.6" r="2.5"/><circle cx="179.9" cy="598.9" r="2.5"/><circle cx="198.5" cy="606.0" r="2.5"/><circle cx="190.0" cy="623.6" r="2.5"/><circle cx="253.6" cy="468.4" r="2.5"/><circle cx="319.5" cy="464.5" r="2.5"/><circle cx="318.8" cy="547.6" r="2.5"/><circle cx="354.5" cy="531.5" r="2.5"/><circle cx="648.6" cy="500.4" r="2.5"/><circle cx="644.6" cy="523.4" r="2.5"/><circle cx="579.6" cy="525.5" r="2.5"/><circle cx="585.5" cy="536.8" r="2.5"/><circle cx="584.0" cy="538.5" r="2.5"/><circle cx="594.2" cy="538.3" r="2.5"/><circle cx="623.6" cy="539.5" r="2.5"/><circle cx="577.4" cy="546.4" r="2.5"/><circle cx="559.1" cy="552.4" r="2.5"/><circle cx="590.7" cy="551.7" r="2.5"/><circle cx="596.4" cy="551.2" r="2.5"/><circle cx="585.5" cy="559.3" r="2.5"/><circle cx="572.9" cy="562.7" r="2.5"/><circle cx="594.3" cy="561.8" r="2.5"/><circle cx="590.2" cy="565.9" r="2.5"/><circle cx="600.2" cy="566.7" r="2.5"/><circle cx="545.9" cy="567.4" r="2.5"/><circle cx="531.2" cy="571.5" r="2.5"/><circle cx="539.5" cy="573.5" r="2.5"/><circle cx="558.2" cy="574.0" r="2.5"/><circle cx="560.1" cy="574.0" r="2.5"/><circle cx="598.0" cy="573.2" r="2.5"/><circle cx="604.9" cy="575.9" r="2.5"/><circle cx="549.1" cy="578.4" r="2.5"/><circle cx="541.7" cy="580.6" r="2.5"/><circle cx="565.0" cy="579.4" r="2.5"/><circle cx="630.6" cy="580.9" r="2.5"/><circle cx="545.0" cy="586.9" r="2.5"/><circle cx="567.0" cy="589.8" r="2.5"/><circle cx="580.4" cy="589.1" r="2.5"/><circle cx="592.4" cy="586.9" r="2.5"/><circle cx="629.4" cy="589.7" r="2.5"/><circle cx="621.4" cy="594.5" r="2.5"/><circle cx="537.0" cy="601.1" r="2.5"/><circle cx="567.0" cy="600.4" r="2.5"/><circle cx="572.3" cy="600.4" r="2.5"/><circle cx="561.6" cy="604.4" r="2.5"/><circle cx="575.8" cy="605.8" r="2.5"/><circle cx="542.9" cy="608.2" r="2.5"/><circle cx="541.7" cy="612.1" r="2.5"/><circle cx="546.4" cy="612.1" r="2.5"/><circle cx="535.6" cy="613.3" r="2.5"/><circle cx="567.0" cy="643.3" r="2.5"/><circle cx="520.3" cy="555.7" r="2.5"/><circle cx="525.7" cy="569.5" r="2.5"/><circle cx="525.7" cy="586.3" r="2.5"/><circle cx="449.9" cy="577.5" r="2.5"/><circle cx="473.7" cy="564.0" r="2.5"/><circle cx="477.8" cy="566.8" r="2.5"/><circle cx="491.8" cy="558.0" r="2.5"/><circle cx="497.2" cy="558.6" r="2.5"/><circle cx="481.2" cy="577.5" r="2.5"/><circle cx="468.4" cy="592.5" r="2.5"/><circle cx="442.6" cy="600.3" r="2.5"/><circle cx="501.7" cy="597.1" r="2.5"/><circle cx="504.7" cy="597.1" r="2.5"/><circle cx="523.7" cy="593.7" r="2.5"/><circle cx="522.2" cy="604.4" r="2.5"/><circle cx="475.2" cy="610.6" r="2.5"/><circle cx="513.7" cy="614.7" r="2.5"/><circle cx="521.1" cy="611.3" r="2.5"/><circle cx="526.9" cy="612.0" r="2.5"/><circle cx="526.9" cy="614.7" r="2.5"/><circle cx="678.6" cy="558.0" r="2.5"/><circle cx="673.4" cy="565.4" r="2.5"/><circle cx="648.6" cy="569.4" r="2.5"/><circle cx="658.0" cy="571.4" r="2.5"/><circle cx="730.0" cy="564.6" r="2.5"/><circle cx="669.4" cy="579.6" r="2.5"/><circle cx="694.0" cy="577.6" r="2.5"/><circle cx="656.0" cy="586.4" r="2.5"/><circle cx="661.4" cy="590.4" r="2.5"/><circle cx="658.0" cy="606.7" r="2.5"/><circle cx="215.3" cy="305.6" r="2.5"/><circle cx="218.1" cy="305.6" r="2.5"/><circle cx="220.9" cy="305.6" r="2.5"/><circle cx="223.7" cy="305.6" r="2.5"/><circle cx="226.5" cy="305.6" r="2.5"/><circle cx="229.3" cy="305.6" r="2.5"/><circle cx="232.1" cy="305.6" r="2.5"/><circle cx="234.9" cy="305.6" r="2.5"/><circle cx="237.7" cy="305.6" r="2.5"/><circle cx="326.5" cy="305.6" r="2.5"/><circle cx="329.4" cy="305.6" r="2.5"/><circle cx="332.2" cy="305.6" r="2.5"/><circle cx="335.1" cy="305.6" r="2.5"/><circle cx="337.9" cy="305.6" r="2.5"/><circle cx="340.8" cy="305.6" r="2.5"/><circle cx="343.6" cy="305.6" r="2.5"/><circle cx="346.5" cy="305.6" r="2.5"/><circle cx="349.3" cy="305.6" r="2.5"/><circle cx="352.2" cy="305.6" r="2.5"/><circle cx="355.0" cy="305.6" r="2.5"/><circle cx="357.9" cy="305.6" r="2.5"/><circle cx="66.9" cy="76.8" r="2.5"/><circle cx="68.8" cy="78.8" r="2.5"/><circle cx="72.4" cy="60.3" r="2.5"/><circle cx="67.2" cy="66.1" r="2.5"/><circle cx="77.7" cy="74.2" r="2.5"/><circle cx="75.5" cy="74.4" r="2.5"/><circle cx="72.6" cy="63.2" r="2.5"/><circle cx="72.6" cy="87.9" r="2.5"/><circle cx="71.0" cy="83.6" r="2.5"/><circle cx="73.1" cy="60.2" r="2.5"/><circle cx="74.3" cy="78.4" r="2.5"/><circle cx="75.9" cy="74.3" r="2.5"/><circle cx="73.8" cy="88.3" r="2.5"/><circle cx="73.7" cy="89.8" r="2.5"/><circle cx="69.1" cy="85.6" r="2.5"/><circle cx="65.4" cy="65.5" r="2.5"/><circle cx="77.3" cy="73.0" r="2.5"/><circle cx="72.5" cy="68.4" r="2.5"/><circle cx="70.8" cy="71.3" r="2.5"/><circle cx="68.5" cy="78.2" r="2.5"/><circle cx="71.9" cy="89.2" r="2.5"/><circle cx="73.3" cy="90.0" r="2.5"/><circle cx="73.1" cy="63.6" r="2.5"/><circle cx="76.4" cy="77.6" r="2.5"/><circle cx="73.7" cy="65.3" r="2.5"/><circle cx="75.4" cy="77.8" r="2.5"/><circle cx="67.6" cy="60.2" r="2.5"/><circle cx="69.4" cy="63.2" r="2.5"/><circle cx="72.3" cy="59.6" r="2.5"/><circle cx="73.8" cy="69.4" r="2.5"/><circle cx="67.9" cy="60.7" r="2.5"/><circle cx="72.1" cy="59.1" r="2.5"/><circle cx="66.3" cy="72.1" r="2.5"/><circle cx="72.2" cy="63.4" r="2.5"/><circle cx="76.3" cy="71.0" r="2.5"/><circle cx="70.1" cy="75.9" r="2.5"/><circle cx="72.7" cy="78.5" r="2.5"/><circle cx="71.5" cy="79.4" r="2.5"/><circle cx="77.0" cy="75.5" r="2.5"/><circle cx="69.7" cy="82.9" r="2.5"/><circle cx="66.9" cy="68.4" r="2.5"/><circle cx="77.5" cy="76.0" r="2.5"/><circle cx="69.4" cy="78.0" r="2.5"/><circle cx="72.5" cy="60.1" r="2.5"/><circle cx="72.5" cy="74.1" r="2.5"/><circle cx="73.2" cy="70.2" r="2.5"/><circle cx="73.6" cy="83.5" r="2.5"/><circle cx="67.1" cy="73.7" r="2.5"/><circle cx="72.0" cy="69.0" r="2.5"/><circle cx="68.7" cy="68.8" r="2.5"/><circle cx="68.8" cy="78.5" r="2.5"/><circle cx="67.8" cy="71.0" r="2.5"/><circle cx="74.5" cy="58.9" r="2.5"/><circle cx="71.6" cy="83.4" r="2.5"/><circle cx="67.9" cy="65.7" r="2.5"/><circle cx="75.0" cy="66.2" r="2.5"/><circle cx="66.2" cy="73.0" r="2.5"/><circle cx="73.5" cy="61.5" r="2.5"/><circle cx="68.1" cy="69.5" r="2.5"/><circle cx="75.4" cy="73.1" r="2.5"/><circle cx="68.3" cy="80.4" r="2.5"/><circle cx="76.2" cy="73.6" r="2.5"/><circle cx="66.7" cy="62.2" r="2.5"/><circle cx="71.1" cy="64.6" r="2.5"/><circle cx="75.0" cy="86.9" r="2.5"/><circle cx="66.1" cy="67.6" r="2.5"/><circle cx="75.0" cy="80.1" r="2.5"/><circle cx="75.0" cy="69.9" r="2.5"/><circle cx="65.4" cy="68.1" r="2.5"/><circle cx="74.9" cy="67.4" r="2.5"/><circle cx="68.5" cy="72.4" r="2.5"/><circle cx="69.5" cy="72.1" r="2.5"/><circle cx="74.2" cy="86.9" r="2.5"/><circle cx="73.0" cy="75.9" r="2.5"/><circle cx="67.6" cy="69.8" r="2.5"/><circle cx="66.8" cy="60.3" r="2.5"/><circle cx="71.9" cy="67.9" r="2.5"/><circle cx="76.4" cy="81.9" r="2.5"/><circle cx="76.4" cy="77.9" r="2.5"/><circle cx="66.0" cy="68.3" r="2.5"/><circle cx="73.0" cy="76.1" r="2.5"/><circle cx="72.3" cy="69.8" r="2.5"/><circle cx="70.3" cy="85.0" r="2.5"/><circle cx="68.5" cy="64.8" r="2.5"/><circle cx="71.1" cy="86.2" r="2.5"/><circle cx="66.1" cy="60.4" r="2.5"/><circle cx="70.5" cy="59.4" r="2.5"/><circle cx="74.8" cy="57.4" r="2.5"/><circle cx="75.2" cy="61.4" r="2.5"/><circle cx="75.0" cy="64.2" r="2.5"/><circle cx="77.5" cy="67.5" r="2.5"/><circle cx="77.7" cy="71.3" r="2.5"/><circle cx="78.1" cy="74.6" r="2.5"/><circle cx="77.3" cy="78.6" r="2.5"/><circle cx="76.1" cy="83.5" r="2.5"/><circle cx="75.6" cy="88.4" r="2.5"/><circle cx="71.5" cy="92.5" r="2.5"/><circle cx="70.8" cy="92.3" r="2.5"/><circle cx="69.3" cy="88.2" r="2.5"/><circle cx="67.6" cy="83.8" r="2.5"/><circle cx="63.6" cy="79.8" r="2.5"/><circle cx="63.3" cy="76.1" r="2.5"/><circle cx="63.8" cy="71.9" r="2.5"/><circle cx="63.0" cy="65.6" r="2.5"/><circle cx="64.8" cy="63.1" r="2.5"/><circle cx="110.2" cy="93.7" r="2.5"/><circle cx="114.9" cy="96.9" r="2.5"/><circle cx="125.6" cy="101.1" r="2.5"/><circle cx="119.0" cy="104.6" r="2.5"/><circle cx="108.3" cy="93.9" r="2.5"/><circle cx="127.5" cy="137.9" r="2.5"/><circle cx="126.7" cy="99.3" r="2.5"/><circle cx="112.3" cy="126.6" r="2.5"/><circle cx="124.7" cy="140.9" r="2.5"/><circle cx="121.0" cy="129.4" r="2.5"/><circle cx="118.1" cy="98.4" r="2.5"/><circle cx="117.1" cy="92.8" r="2.5"/><circle cx="130.6" cy="141.6" r="2.5"/><circle cx="119.3" cy="106.1" r="2.5"/><circle cx="129.1" cy="140.5" r="2.5"/><circle cx="118.1" cy="113.2" r="2.5"/><circle cx="120.8" cy="114.3" r="2.5"/><circle cx="108.0" cy="106.4" r="2.5"/><circle cx="111.5" cy="120.8" r="2.5"/><circle cx="117.1" cy="108.7" r="2.5"/><circle cx="115.4" cy="99.9" r="2.5"/><circle cx="121.8" cy="104.6" r="2.5"/><circle cx="112.7" cy="122.3" r="2.5"/><circle cx="105.1" cy="101.6" r="2.5"/><circle cx="125.6" cy="125.8" r="2.5"/><circle cx="110.2" cy="108.0" r="2.5"/><circle cx="108.5" cy="116.0" r="2.5"/><circle cx="121.4" cy="138.6" r="2.5"/><circle cx="111.9" cy="99.2" r="2.5"/><circle cx="116.3" cy="95.8" r="2.5"/><circle cx="104.6" cy="97.8" r="2.5"/><circle cx="126.2" cy="110.0" r="2.5"/><circle cx="111.8" cy="93.3" r="2.5"/><circle cx="104.9" cy="97.8" r="2.5"/><circle cx="123.1" cy="96.6" r="2.5"/><circle cx="125.9" cy="112.9" r="2.5"/><circle cx="110.4" cy="113.0" r="2.5"/><circle cx="104.2" cy="103.2" r="2.5"/><circle cx="110.4" cy="100.3" r="2.5"/><circle cx="129.6" cy="128.3" r="2.5"/><circle cx="126.4" cy="134.0" r="2.5"/><circle cx="117.7" cy="93.0" r="2.5"/><circle cx="126.6" cy="127.5" r="2.5"/><circle cx="122.4" cy="130.3" r="2.5"/><circle cx="122.8" cy="90.0" r="2.5"/><circle cx="105.1" cy="97.7" r="2.5"/><circle cx="121.8" cy="122.9" r="2.5"/><circle cx="125.1" cy="145.4" r="2.5"/><circle cx="126.9" cy="136.4" r="2.5"/><circle cx="122.9" cy="108.0" r="2.5"/><circle cx="117.1" cy="120.3" r="2.5"/><circle cx="120.7" cy="117.9" r="2.5"/><circle cx="128.5" cy="125.4" r="2.5"/><circle cx="107.4" cy="110.0" r="2.5"/><circle cx="125.7" cy="120.0" r="2.5"/><circle cx="119.2" cy="111.1" r="2.5"/><circle cx="126.3" cy="106.7" r="2.5"/><circle cx="110.1" cy="117.8" r="2.5"/><circle cx="108.4" cy="96.6" r="2.5"/><circle cx="117.7" cy="108.5" r="2.5"/><circle cx="112.4" cy="121.4" r="2.5"/><circle cx="117.5" cy="132.1" r="2.5"/><circle cx="117.4" cy="92.0" r="2.5"/><circle cx="123.1" cy="125.5" r="2.5"/><circle cx="126.3" cy="125.7" r="2.5"/><circle cx="116.2" cy="96.0" r="2.5"/><circle cx="125.8" cy="109.9" r="2.5"/><circle cx="122.6" cy="95.6" r="2.5"/><circle cx="105.7" cy="96.2" r="2.5"/><circle cx="126.9" cy="98.4" r="2.5"/><circle cx="120.1" cy="109.2" r="2.5"/><circle cx="121.4" cy="93.1" r="2.5"/><circle cx="112.8" cy="106.1" r="2.5"/><circle cx="126.7" cy="137.9" r="2.5"/><circle cx="120.4" cy="118.3" r="2.5"/><circle cx="120.1" cy="146.1" r="2.5"/><circle cx="123.0" cy="134.0" r="2.5"/><circle cx="121.3" cy="139.4" r="2.5"/><circle cx="115.2" cy="124.8" r="2.5"/><circle cx="129.5" cy="131.4" r="2.5"/><circle cx="112.3" cy="101.7" r="2.5"/><circle cx="112.8" cy="126.6" r="2.5"/><circle cx="115.0" cy="112.4" r="2.5"/><circle cx="127.2" cy="105.0" r="2.5"/><circle cx="123.5" cy="125.8" r="2.5"/><circle cx="121.5" cy="97.0" r="2.5"/><circle cx="120.9" cy="106.8" r="2.5"/><circle cx="106.0" cy="103.4" r="2.5"/><circle cx="107.6" cy="102.2" r="2.5"/><circle cx="123.2" cy="121.6" r="2.5"/><circle cx="118.6" cy="97.1" r="2.5"/><circle cx="112.5" cy="94.8" r="2.5"/><circle cx="123.8" cy="133.1" r="2.5"/><circle cx="122.4" cy="147.0" r="2.5"/><circle cx="129.0" cy="132.4" r="2.5"/><circle cx="119.7" cy="130.8" r="2.5"/><circle cx="124.4" cy="121.9" r="2.5"/><circle cx="118.0" cy="96.9" r="2.5"/><circle cx="105.3" cy="97.8" r="2.5"/><circle cx="128.8" cy="103.3" r="2.5"/><circle cx="114.7" cy="130.0" r="2.5"/><circle cx="128.5" cy="107.8" r="2.5"/><circle cx="114.6" cy="113.8" r="2.5"/><circle cx="107.8" cy="97.0" r="2.5"/><circle cx="128.1" cy="138.9" r="2.5"/><circle cx="110.1" cy="122.0" r="2.5"/><circle cx="117.2" cy="132.3" r="2.5"/><circle cx="127.6" cy="124.1" r="2.5"/><circle cx="129.9" cy="106.4" r="2.5"/><circle cx="122.2" cy="143.5" r="2.5"/><circle cx="120.8" cy="89.5" r="2.5"/><circle cx="121.8" cy="103.3" r="2.5"/><circle cx="128.4" cy="128.8" r="2.5"/><circle cx="121.6" cy="108.5" r="2.5"/><circle cx="127.7" cy="143.2" r="2.5"/><circle cx="129.4" cy="142.7" r="2.5"/><circle cx="122.5" cy="131.1" r="2.5"/><circle cx="121.0" cy="120.3" r="2.5"/><circle cx="117.8" cy="121.5" r="2.5"/><circle cx="120.8" cy="102.9" r="2.5"/><circle cx="126.1" cy="144.3" r="2.5"/><circle cx="123.6" cy="94.5" r="2.5"/><circle cx="127.9" cy="126.3" r="2.5"/><circle cx="121.5" cy="88.3" r="2.5"/><circle cx="117.3" cy="96.3" r="2.5"/><circle cx="125.2" cy="138.4" r="2.5"/><circle cx="112.0" cy="111.6" r="2.5"/><circle cx="121.0" cy="89.3" r="2.5"/><circle cx="125.3" cy="141.4" r="2.5"/><circle cx="126.3" cy="131.4" r="2.5"/><circle cx="116.1" cy="98.2" r="2.5"/><circle cx="130.5" cy="104.5" r="2.5"/><circle cx="125.4" cy="112.8" r="2.5"/><circle cx="121.6" cy="140.1" r="2.5"/><circle cx="112.7" cy="126.1" r="2.5"/><circle cx="110.8" cy="119.3" r="2.5"/><circle cx="104.2" cy="103.8" r="2.5"/><circle cx="122.8" cy="143.1" r="2.5"/><circle cx="117.9" cy="94.4" r="2.5"/><circle cx="113.2" cy="115.8" r="2.5"/><circle cx="112.0" cy="122.8" r="2.5"/><circle cx="122.6" cy="144.2" r="2.5"/><circle cx="108.6" cy="100.1" r="2.5"/><circle cx="121.0" cy="110.1" r="2.5"/><circle cx="122.8" cy="140.1" r="2.5"/><circle cx="106.3" cy="99.7" r="2.5"/><circle cx="119.2" cy="121.2" r="2.5"/><circle cx="127.8" cy="134.8" r="2.5"/><circle cx="104.4" cy="96.8" r="2.5"/><circle cx="109.7" cy="102.2" r="2.5"/><circle cx="120.1" cy="99.4" r="2.5"/><circle cx="121.5" cy="108.8" r="2.5"/><circle cx="124.7" cy="146.1" r="2.5"/><circle cx="117.8" cy="89.8" r="2.5"/><circle cx="114.8" cy="96.0" r="2.5"/><circle cx="114.3" cy="116.3" r="2.5"/><circle cx="113.7" cy="115.2" r="2.5"/><circle cx="126.2" cy="133.2" r="2.5"/><circle cx="115.5" cy="94.4" r="2.5"/><circle cx="111.9" cy="122.3" r="2.5"/><circle cx="120.8" cy="124.8" r="2.5"/><circle cx="108.6" cy="105.1" r="2.5"/><circle cx="116.0" cy="106.9" r="2.5"/><circle cx="121.8" cy="97.9" r="2.5"/><circle cx="130.6" cy="103.4" r="2.5"/><circle cx="113.1" cy="121.0" r="2.5"/><circle cx="119.2" cy="110.2" r="2.5"/><circle cx="128.5" cy="99.6" r="2.5"/><circle cx="117.1" cy="94.7" r="2.5"/><circle cx="129.1" cy="124.6" r="2.5"/><circle cx="124.1" cy="124.7" r="2.5"/><circle cx="121.0" cy="121.4" r="2.5"/><circle cx="109.4" cy="116.9" r="2.5"/><circle cx="111.7" cy="113.4" r="2.5"/><circle cx="128.2" cy="140.3" r="2.5"/><circle cx="130.0" cy="105.0" r="2.5"/><circle cx="127.2" cy="99.9" r="2.5"/><circle cx="118.4" cy="113.8" r="2.5"/><circle cx="122.8" cy="126.8" r="2.5"/><circle cx="118.2" cy="121.7" r="2.5"/><circle cx="123.4" cy="91.2" r="2.5"/><circle cx="116.0" cy="95.7" r="2.5"/><circle cx="112.8" cy="108.5" r="2.5"/><circle cx="111.4" cy="124.1" r="2.5"/><circle cx="119.2" cy="113.9" r="2.5"/><circle cx="112.2" cy="109.8" r="2.5"/><circle cx="125.5" cy="120.2" r="2.5"/><circle cx="119.0" cy="102.7" r="2.5"/><circle cx="121.5" cy="97.9" r="2.5"/><circle cx="117.4" cy="128.1" r="2.5"/><circle cx="119.2" cy="123.7" r="2.5"/><circle cx="119.9" cy="99.4" r="2.5"/><circle cx="116.5" cy="108.1" r="2.5"/><circle cx="112.2" cy="107.1" r="2.5"/><circle cx="112.1" cy="107.1" r="2.5"/><circle cx="109.4" cy="117.6" r="2.5"/><circle cx="111.8" cy="110.3" r="2.5"/><circle cx="122.7" cy="107.0" r="2.5"/><circle cx="128.5" cy="137.3" r="2.5"/><circle cx="119.5" cy="101.2" r="2.5"/><circle cx="114.8" cy="102.4" r="2.5"/><circle cx="116.2" cy="133.2" r="2.5"/><circle cx="111.8" cy="92.8" r="2.5"/><circle cx="124.8" cy="122.2" r="2.5"/><circle cx="125.5" cy="123.2" r="2.5"/><circle cx="115.9" cy="133.1" r="2.5"/><circle cx="114.8" cy="92.6" r="2.5"/><circle cx="114.2" cy="89.0" r="2.5"/><circle cx="117.3" cy="88.0" r="2.5"/><circle cx="121.1" cy="87.1" r="2.5"/><circle cx="124.0" cy="91.7" r="2.5"/><circle cx="126.5" cy="95.3" r="2.5"/><circle cx="128.2" cy="99.2" r="2.5"/><circle cx="129.9" cy="102.5" r="2.5"/><circle cx="132.0" cy="106.9" r="2.5"/><circle cx="128.7" cy="110.2" r="2.5"/><circle cx="127.4" cy="114.4" r="2.5"/><circle cx="125.9" cy="119.6" r="2.5"/><circle cx="128.2" cy="122.3" r="2.5"/><circle cx="129.6" cy="125.6" r="2.5"/><circle cx="129.5" cy="129.8" r="2.5"/><circle cx="128.4" cy="135.2" r="2.5"/><circle cx="130.2" cy="139.1" r="2.5"/><circle cx="130.7" cy="142.6" r="2.5"/><circle cx="127.0" cy="147.0" r="2.5"/><circle cx="122.8" cy="146.9" r="2.5"/><circle cx="119.3" cy="150.4" r="2.5"/><circle cx="118.9" cy="146.8" r="2.5"/><circle cx="118.8" cy="143.0" r="2.5"/><circle cx="119.7" cy="139.2" r="2.5"/><circle cx="117.1" cy="135.1" r="2.5"/><circle cx="114.1" cy="129.4" r="2.5"/><circle cx="112.0" cy="127.6" r="2.5"/><circle cx="110.1" cy="125.2" r="2.5"/><circle cx="109.6" cy="122.1" r="2.5"/><circle cx="108.3" cy="119.2" r="2.5"/><circle cx="107.8" cy="115.4" r="2.5"/><circle cx="106.3" cy="111.6" r="2.5"/><circle cx="107.3" cy="109.3" r="2.5"/><circle cx="105.6" cy="106.1" r="2.5"/><circle cx="103.5" cy="102.3" r="2.5"/><circle cx="103.7" cy="97.0" r="2.5"/><circle cx="108.2" cy="93.6" r="2.5"/><circle cx="110.4" cy="91.5" r="2.5"/><circle cx="231.4" cy="203.1" r="2.5"/><circle cx="233.0" cy="206.2" r="2.5"/><circle cx="223.4" cy="198.4" r="2.5"/><circle cx="235.7" cy="201.5" r="2.5"/><circle cx="235.2" cy="192.4" r="2.5"/><circle cx="229.3" cy="194.7" r="2.5"/><circle cx="230.3" cy="200.3" r="2.5"/><circle cx="226.8" cy="206.1" r="2.5"/><circle cx="233.3" cy="193.2" r="2.5"/><circle cx="233.8" cy="192.9" r="2.5"/><circle cx="231.3" cy="192.7" r="2.5"/><circle cx="225.8" cy="194.2" r="2.5"/><circle cx="226.9" cy="206.8" r="2.5"/><circle cx="230.3" cy="202.0" r="2.5"/><circle cx="225.8" cy="206.5" r="2.5"/><circle cx="232.3" cy="206.9" r="2.5"/><circle cx="235.1" cy="195.6" r="2.5"/><circle cx="227.9" cy="193.3" r="2.5"/><circle cx="227.1" cy="200.8" r="2.5"/><circle cx="227.6" cy="195.8" r="2.5"/><circle cx="234.0" cy="198.7" r="2.5"/><circle cx="227.3" cy="198.7" r="2.5"/><circle cx="232.5" cy="191.5" r="2.5"/><circle cx="233.1" cy="204.9" r="2.5"/><circle cx="227.9" cy="200.3" r="2.5"/><circle cx="225.7" cy="203.3" r="2.5"/><circle cx="227.6" cy="196.5" r="2.5"/><circle cx="230.1" cy="203.7" r="2.5"/><circle cx="224.5" cy="203.2" r="2.5"/><circle cx="233.8" cy="205.1" r="2.5"/><circle cx="224.2" cy="196.3" r="2.5"/><circle cx="231.2" cy="206.1" r="2.5"/><circle cx="227.6" cy="206.2" r="2.5"/><circle cx="230.4" cy="195.8" r="2.5"/><circle cx="227.3" cy="193.5" r="2.5"/><circle cx="224.1" cy="193.0" r="2.5"/><circle cx="236.3" cy="199.6" r="2.5"/><circle cx="228.5" cy="194.5" r="2.5"/><circle cx="231.0" cy="204.5" r="2.5"/><circle cx="223.9" cy="191.9" r="2.5"/><circle cx="228.5" cy="191.0" r="2.5"/><circle cx="231.9" cy="191.0" r="2.5"/><circle cx="236.4" cy="191.1" r="2.5"/><circle cx="236.5" cy="195.3" r="2.5"/><circle cx="236.7" cy="198.3" r="2.5"/><circle cx="235.7" cy="201.2" r="2.5"/><circle cx="235.4" cy="204.9" r="2.5"/><circle cx="232.8" cy="206.9" r="2.5"/><circle cx="230.1" cy="207.7" r="2.5"/><circle cx="226.6" cy="207.4" r="2.5"/><circle cx="223.5" cy="203.3" r="2.5"/><circle cx="223.0" cy="196.7" r="2.5"/><circle cx="229.2" cy="179.1" r="2.5"/><circle cx="225.8" cy="173.2" r="2.5"/><circle cx="225.7" cy="178.5" r="2.5"/><circle cx="224.6" cy="178.6" r="2.5"/><circle cx="223.5" cy="178.9" r="2.5"/><circle cx="228.5" cy="174.8" r="2.5"/><circle cx="226.4" cy="177.7" r="2.5"/><circle cx="222.6" cy="176.3" r="2.5"/><circle cx="229.4" cy="173.3" r="2.5"/><circle cx="229.3" cy="177.7" r="2.5"/><circle cx="229.8" cy="174.0" r="2.5"/><circle cx="221.5" cy="178.9" r="2.5"/><circle cx="229.4" cy="175.2" r="2.5"/><circle cx="227.5" cy="173.6" r="2.5"/><circle cx="231.0" cy="176.7" r="2.5"/><circle cx="222.7" cy="177.4" r="2.5"/><circle cx="224.5" cy="180.3" r="2.5"/><circle cx="230.5" cy="175.9" r="2.5"/><circle cx="227.6" cy="177.8" r="2.5"/><circle cx="227.1" cy="173.7" r="2.5"/><circle cx="227.0" cy="171.4" r="2.5"/><circle cx="230.2" cy="176.0" r="2.5"/><circle cx="221.8" cy="177.5" r="2.5"/><circle cx="223.9" cy="172.6" r="2.5"/><circle cx="225.8" cy="172.0" r="2.5"/><circle cx="222.8" cy="179.6" r="2.5"/><circle cx="227.2" cy="169.9" r="2.5"/><circle cx="231.8" cy="169.9" r="2.5"/><circle cx="231.3" cy="174.7" r="2.5"/><circle cx="231.6" cy="177.8" r="2.5"/><circle cx="228.9" cy="180.9" r="2.5"/><circle cx="225.1" cy="181.6" r="2.5"/><circle cx="221.5" cy="180.9" r="2.5"/><circle cx="220.8" cy="176.9" r="2.5"/><circle cx="221.6" cy="173.7" r="2.5"/><circle cx="224.6" cy="172.7" r="2.5"/><circle cx="227.2" cy="217.7" r="2.5"/><circle cx="230.5" cy="215.2" r="2.5"/><circle cx="229.4" cy="224.3" r="2.5"/><circle cx="224.6" cy="228.7" r="2.5"/><circle cx="224.4" cy="226.4" r="2.5"/><circle cx="224.7" cy="215.8" r="2.5"/><circle cx="228.2" cy="238.6" r="2.5"/><circle cx="225.2" cy="219.9" r="2.5"/><circle cx="230.3" cy="242.4" r="2.5"/><circle cx="229.8" cy="225.3" r="2.5"/><circle cx="232.6" cy="222.0" r="2.5"/><circle cx="225.4" cy="216.7" r="2.5"/><circle cx="227.1" cy="238.3" r="2.5"/><circle cx="225.8" cy="231.0" r="2.5"/><circle cx="230.4" cy="224.5" r="2.5"/><circle cx="229.5" cy="214.9" r="2.5"/><circle cx="224.6" cy="219.4" r="2.5"/><circle cx="230.8" cy="226.3" r="2.5"/><circle cx="227.1" cy="231.2" r="2.5"/><circle cx="228.5" cy="222.3" r="2.5"/><circle cx="231.9" cy="234.7" r="2.5"/><circle cx="226.4" cy="230.8" r="2.5"/><circle cx="229.3" cy="240.1" r="2.5"/><circle cx="231.3" cy="221.9" r="2.5"/><circle cx="228.2" cy="236.5" r="2.5"/><circle cx="225.5" cy="228.2" r="2.5"/><circle cx="231.6" cy="230.8" r="2.5"/><circle cx="232.8" cy="222.7" r="2.5"/><circle cx="231.0" cy="231.4" r="2.5"/><circle cx="229.8" cy="227.1" r="2.5"/><circle cx="224.4" cy="213.5" r="2.5"/><circle cx="228.0" cy="213.2" r="2.5"/><circle cx="231.5" cy="213.2" r="2.5"/><circle cx="232.8" cy="217.6" r="2.5"/><circle cx="233.7" cy="220.7" r="2.5"/><circle cx="233.9" cy="225.2" r="2.5"/><circle cx="233.2" cy="228.7" r="2.5"/><circle cx="233.1" cy="232.0" r="2.5"/><circle cx="232.7" cy="236.6" r="2.5"/><circle cx="232.6" cy="239.7" r="2.5"/><circle cx="228.9" cy="244.4" r="2.5"/><circle cx="226.5" cy="240.9" r="2.5"/><circle cx="225.1" cy="238.5" r="2.5"/><circle cx="225.1" cy="235.2" r="2.5"/><circle cx="224.2" cy="231.4" r="2.5"/><circle cx="224.1" cy="228.7" r="2.5"/><circle cx="224.5" cy="224.6" r="2.5"/><circle cx="223.6" cy="220.7" r="2.5"/><circle cx="223.7" cy="217.0" r="2.5"/><circle cx="339.1" cy="278.9" r="2.5"/><circle cx="338.6" cy="271.7" r="2.5"/><circle cx="338.4" cy="258.9" r="2.5"/><circle cx="341.2" cy="264.9" r="2.5"/><circle cx="340.3" cy="265.9" r="2.5"/><circle cx="339.0" cy="275.3" r="2.5"/><circle cx="338.4" cy="258.6" r="2.5"/><circle cx="338.1" cy="259.5" r="2.5"/><circle cx="340.0" cy="277.3" r="2.5"/><circle cx="339.9" cy="255.2" r="2.5"/><circle cx="339.3" cy="279.8" r="2.5"/><circle cx="338.3" cy="269.4" r="2.5"/><circle cx="339.9" cy="270.5" r="2.5"/><circle cx="339.7" cy="271.4" r="2.5"/><circle cx="340.5" cy="270.2" r="2.5"/><circle cx="342.5" cy="268.3" r="2.5"/><circle cx="338.7" cy="253.8" r="2.5"/><circle cx="339.0" cy="278.5" r="2.5"/><circle cx="340.9" cy="272.4" r="2.5"/><circle cx="339.8" cy="276.6" r="2.5"/><circle cx="338.7" cy="273.4" r="2.5"/><circle cx="338.5" cy="271.3" r="2.5"/><circle cx="341.5" cy="278.6" r="2.5"/><circle cx="342.2" cy="266.1" r="2.5"/><circle cx="339.0" cy="256.2" r="2.5"/><circle cx="338.0" cy="252.0" r="2.5"/><circle cx="341.5" cy="252.5" r="2.5"/><circle cx="342.1" cy="255.7" r="2.5"/><circle cx="341.9" cy="258.7" r="2.5"/><circle cx="341.8" cy="262.3" r="2.5"/><circle cx="342.2" cy="265.9" r="2.5"/><circle cx="342.5" cy="269.9" r="2.5"/><circle cx="343.2" cy="272.6" r="2.5"/><circle cx="342.8" cy="276.1" r="2.5"/><circle cx="343.2" cy="280.6" r="2.5"/><circle cx="337.6" cy="280.3" r="2.5"/><circle cx="337.8" cy="275.9" r="2.5"/><circle cx="338.3" cy="272.8" r="2.5"/><circle cx="337.6" cy="269.4" r="2.5"/><circle cx="337.7" cy="265.9" r="2.5"/><circle cx="337.9" cy="262.4" r="2.5"/><circle cx="338.1" cy="258.7" r="2.5"/><circle cx="337.5" cy="255.0" r="2.5"/><circle cx="441.9" cy="74.6" r="2.5"/><circle cx="439.5" cy="74.7" r="2.5"/><circle cx="443.3" cy="76.3" r="2.5"/><circle cx="443.4" cy="69.7" r="2.5"/><circle cx="440.7" cy="68.7" r="2.5"/><circle cx="439.9" cy="72.7" r="2.5"/><circle cx="441.7" cy="68.2" r="2.5"/><circle cx="440.8" cy="70.9" r="2.5"/><circle cx="441.5" cy="77.2" r="2.5"/><circle cx="442.7" cy="68.9" r="2.5"/><circle cx="440.5" cy="66.4" r="2.5"/><circle cx="439.4" cy="68.1" r="2.5"/><circle cx="441.7" cy="75.1" r="2.5"/><circle cx="442.9" cy="68.3" r="2.5"/><circle cx="442.6" cy="70.1" r="2.5"/><circle cx="442.8" cy="69.5" r="2.5"/><circle cx="439.5" cy="74.4" r="2.5"/><circle cx="443.1" cy="79.4" r="2.5"/><circle cx="443.7" cy="68.1" r="2.5"/><circle cx="439.1" cy="66.6" r="2.5"/><circle cx="444.1" cy="66.1" r="2.5"/><circle cx="443.9" cy="70.7" r="2.5"/><circle cx="444.1" cy="73.4" r="2.5"/><circle cx="445.4" cy="77.8" r="2.5"/><circle cx="444.9" cy="81.2" r="2.5"/><circle cx="444.9" cy="84.9" r="2.5"/><circle cx="444.5" cy="88.8" r="2.5"/><circle cx="443.1" cy="88.9" r="2.5"/><circle cx="443.0" cy="84.6" r="2.5"/><circle cx="444.0" cy="80.0" r="2.5"/><circle cx="441.7" cy="77.2" r="2.5"/><circle cx="439.6" cy="74.9" r="2.5"/><circle cx="439.0" cy="71.2" r="2.5"/></g></svg>
</body></html>
